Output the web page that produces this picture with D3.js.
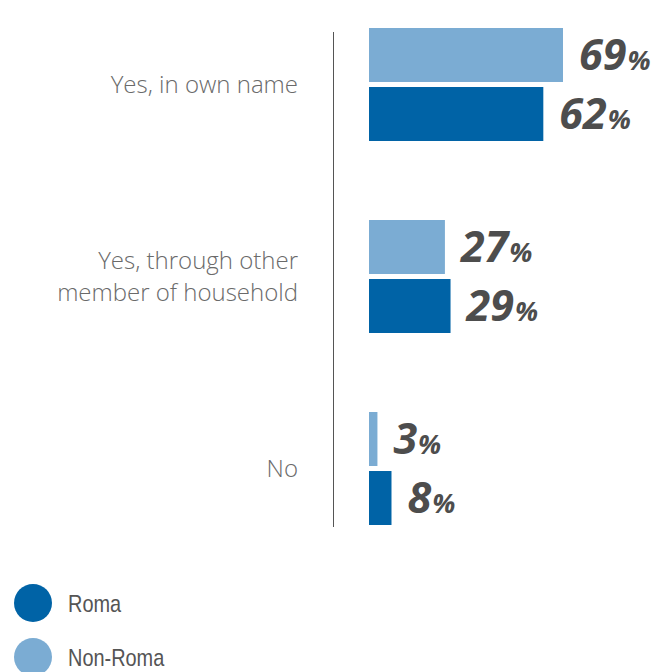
<!DOCTYPE html>
<html>
<head>
<meta charset="utf-8">
<script src="https://cdn.jsdelivr.net/npm/d3@7"></script>
<style>
  body { margin: 0; background: #fff; }
</style>
</head>
<body>
<script>
// Data
const categories = ["Yes, in own name", "Yes, through other member of household", "No"];
const categoryLines = [["Yes, in own name"], ["Yes, through other", "member of household"], ["No"]];
const series = ["Non-Roma", "Roma"];
const nonRoma = [69, 27, 3];
const roma = [62, 29, 8];
const legendItems = ["Roma", "Non-Roma"];

const colors = { "Roma": "#0063a6", "Non-Roma": "#7bacd3" };

const width = 655, height = 672;

const svg = d3.select("body").append("svg")
    .attr("width", width)
    .attr("height", height);

// Scales
const x = d3.scaleLinear().domain([0, 69]).range([369, 563]);

const y0 = d3.scaleBand()
    .domain(categories)
    .range([28, 525])
    .paddingInner(0.4115)
    .paddingOuter(0);

const y1 = d3.scaleBand()
    .domain(series)
    .range([0, y0.bandwidth()])
    .paddingInner(0.085);

const rows = categories.map((c, i) => ({ cat: c, lines: categoryLines[i], values: [
  { s: "Non-Roma", v: nonRoma[i] },
  { s: "Roma", v: roma[i] }
]}));

// Axis line
svg.append("line")
    .attr("x1", 333.5).attr("x2", 333.5)
    .attr("y1", 32).attr("y2", 527)
    .attr("stroke", "#555")
    .attr("stroke-width", 1);

const g = svg.selectAll("g.group")
    .data(rows)
    .enter().append("g")
    .attr("class", "group")
    .attr("transform", d => `translate(0,${y0(d.cat)})`);

g.selectAll("rect")
    .data(d => d.values)
    .enter().append("rect")
    .attr("x", x(0))
    .attr("y", d => y1(d.s))
    .attr("width", d => x(d.v) - x(0))
    .attr("height", y1.bandwidth())
    .attr("fill", d => colors[d.s]);

const vt = g.selectAll("text.val")
    .data(d => d.values)
    .enter().append("text")
    .attr("class", "val")
    .attr("x", d => x(d.v) + 16)
    .attr("y", d => y1(d.s) + y1.bandwidth() / 2 + 15)
    .attr("font-family", "'Open Sans', sans-serif")
    .attr("font-weight", "bold")
    .attr("font-style", "italic")
    .attr("fill", "#4d4d4d");
vt.append("tspan").attr("font-size", 43).text(d => d.v);
vt.append("tspan").attr("font-size", 27).attr("dx", 1).text("%");

// Category labels
g.each(function(d) {
  const t = d3.select(this).append("text")
      .attr("text-anchor", "end")
      .attr("font-family", "'Open Sans', sans-serif")
      .attr("font-weight", 300)
      .attr("font-size", 24)
      .attr("fill", "#6a6a6a");
  const mid = y0.bandwidth() / 2;
  const lh = 32;
  const start = mid - (d.lines.length - 1) * lh / 2 + 8.5;
  d.lines.forEach((l, i) => {
    t.append("tspan").attr("x", 298).attr("y", start + i * lh).text(l);
  });
});

// Legend
const lg = svg.selectAll("g.legend")
    .data(legendItems)
    .enter().append("g")
    .attr("class", "legend")
    .attr("transform", (d, i) => `translate(33,${603 + i * 54})`);

lg.append("circle")
    .attr("r", 19)
    .attr("fill", d => colors[d]);

lg.append("text")
    .attr("transform", "translate(35,9) scale(0.83,1)")
    .attr("font-family", "'Liberation Sans Narrow', sans-serif")
    .attr("font-size", 24)
    .attr("fill", "#555")
    .text(d => d);
</script>
</body>
</html>
